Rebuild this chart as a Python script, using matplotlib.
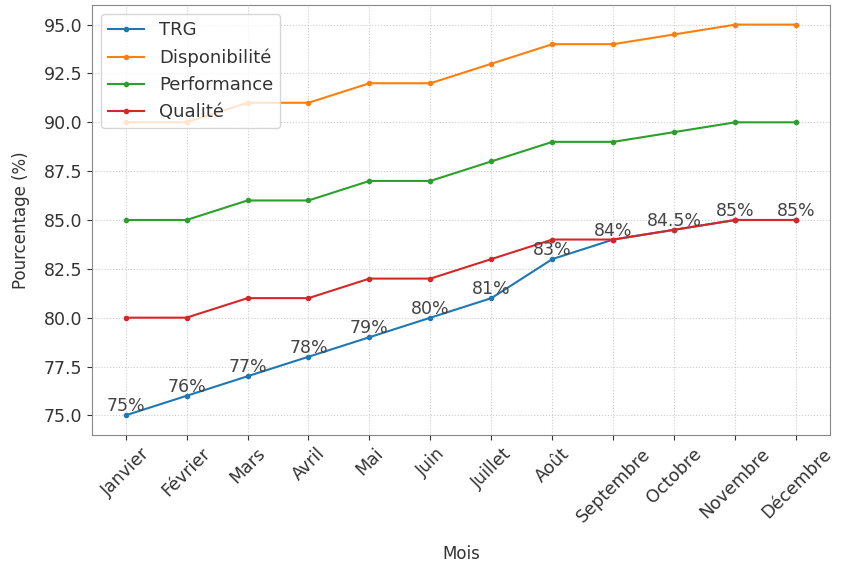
import matplotlib
matplotlib.use('Agg')
import matplotlib.pyplot as plt

plt.rcParams['font.family'] = ['DejaVu Sans']
plt.rcParams['text.color'] = '#333333'
plt.rcParams['axes.labelcolor'] = '#333333'
plt.rcParams['xtick.color'] = '#333333'
plt.rcParams['ytick.color'] = '#333333'

mois = ['Janvier', 'Février', 'Mars', 'Avril', 'Mai', 'Juin', 'Juillet', 'Août',
        'Septembre', 'Octobre', 'Novembre', 'Décembre']
trg = [75, 76, 77, 78, 79, 80, 81, 83, 84, 84.5, 85, 85]
disponibilite = [90, 90, 91, 91, 92, 92, 93, 94, 94, 94.5, 95, 95]
performance = [85, 85, 86, 86, 87, 87, 88, 89, 89, 89.5, 90, 90]
qualite = [80, 80, 81, 81, 82, 82, 83, 84, 84, 84.5, 85, 85]

fig, ax = plt.subplots(figsize=(8.52, 5.67), dpi=100)
fig.subplots_adjust(left=0.108, right=0.974, bottom=0.233, top=0.991)

x = range(len(mois))
ax.plot(x, trg, marker='.', color='#1f77b4', label='TRG')
ax.plot(x, disponibilite, marker='.', color='#ff7f0e', label='Disponibilité')
ax.plot(x, performance, marker='.', color='#2ca02c', label='Performance')
ax.plot(x, qualite, marker='.', color='#d62728', label='Qualité')

# étiquettes TRG
for i, v in enumerate(trg):
    txt = f'{v:g}%'
    ax.annotate(txt, (i, v), textcoords='offset points', xytext=(0, 0),
                ha='center', va='bottom', fontsize=12.5, color='#444444')

ax.set_xticks(list(x))
ax.set_xticklabels(mois, rotation=45, fontsize=12.5)
ax.tick_params(axis='y', labelsize=12.5)
ax.set_xlabel('Mois', fontsize=12, labelpad=14)
ax.set_ylabel('Pourcentage (%)', fontsize=12, labelpad=10)
ax.grid(True, linestyle=':', color='#cccccc')
for s in ax.spines.values():
    s.set_color('#888888')
ax.legend(loc='upper left', fontsize=13)

fig.savefig('out.png', dpi=100)
